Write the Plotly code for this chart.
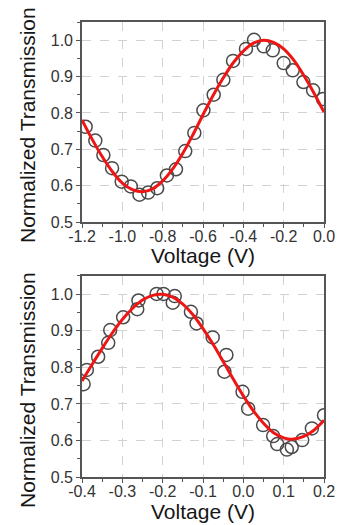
import plotly.graph_objects as go

# ---------------- data: top panel ----------------
top_v = [-1.182, -1.134, -1.094, -1.051, -1.003, -0.958, -0.915, -0.872, -0.827,
         -0.779, -0.734, -0.688, -0.643, -0.598, -0.547, -0.499, -0.451, -0.387,
         -0.347, -0.299, -0.254, -0.200, -0.155, -0.102, -0.054, -0.005]
top_t = [0.762, 0.724, 0.684, 0.648, 0.611, 0.598, 0.575, 0.581, 0.593,
         0.628, 0.645, 0.695, 0.745, 0.807, 0.850, 0.891, 0.943, 0.976,
         1.001, 0.983, 0.972, 0.937, 0.917, 0.885, 0.862, 0.838]
top_fit_v = [-1.20, -1.15, -1.10, -1.05, -1.00, -0.95, -0.90, -0.85, -0.80, -0.75,
             -0.70, -0.65, -0.60, -0.55, -0.50, -0.45, -0.40, -0.35, -0.30, -0.25,
             -0.20, -0.15, -0.10, -0.05, 0.00]
top_fit_t = [0.781, 0.728, 0.680, 0.639, 0.607, 0.589, 0.583, 0.591, 0.613, 0.646,
             0.689, 0.740, 0.795, 0.848, 0.896, 0.938, 0.970, 0.992, 1.000, 0.994,
             0.976, 0.945, 0.903, 0.855, 0.802]

# ---------------- data: bottom panel ----------------
bot_v = [-0.396, -0.388, -0.360, -0.335, -0.330, -0.298, -0.263, -0.260, -0.215,
         -0.198, -0.175, -0.170, -0.130, -0.116, -0.076, -0.042, -0.047, -0.002,
         0.012, 0.049, 0.074, 0.084, 0.108, 0.120, 0.146, 0.170, 0.200]
bot_t = [0.754, 0.793, 0.829, 0.867, 0.902, 0.937, 0.959, 0.983, 1.001,
         1.001, 0.977, 0.995, 0.952, 0.920, 0.882, 0.834, 0.788, 0.733,
         0.687, 0.642, 0.612, 0.590, 0.575, 0.582, 0.601, 0.633, 0.669]
bot_fit_v = [-0.400, -0.375, -0.350, -0.325, -0.300, -0.275, -0.250, -0.225, -0.200,
             -0.175, -0.150, -0.125, -0.100, -0.075, -0.050, -0.025, 0.000, 0.025,
             0.050, 0.075, 0.100, 0.120, 0.150, 0.175, 0.200]
bot_fit_t = [0.763, 0.808, 0.852, 0.894, 0.931, 0.961, 0.984, 0.997, 1.000,
             0.992, 0.973, 0.944, 0.906, 0.863, 0.816, 0.768, 0.722, 0.681,
             0.647, 0.621, 0.607, 0.603, 0.611, 0.628, 0.655]

# ---------------- ticks ----------------
top_xticks = [-1.2, -1.0, -0.8, -0.6, -0.4, -0.2, 0.0]
top_xlabels = ["-1.2", "-1.0", "-0.8", "-0.6", "-0.4", "-0.2", "0.0"]
bot_xticks = [-0.4, -0.3, -0.2, -0.1, 0.0, 0.1, 0.2]
bot_xlabels = ["-0.4", "-0.3", "-0.2", "-0.1", "0.0", "0.1", "0.2"]
yticks = [0.5, 0.6, 0.7, 0.8, 0.9, 1.0]
ylabels = ["0.5", "0.6", "0.7", "0.8", "0.9", "1.0"]

x_title = "Voltage (V)"
y_title = "Normalized Transmission"

FONT = "Arial, 'Liberation Sans', sans-serif"
FRAME = "#555555"
GRID = "#d2d2d2"
MARK = "#4a4a4a"
RED = "#ee1515"

fig = go.Figure()
fig.add_trace(go.Scatter(x=top_v, y=top_t, mode="markers", xaxis="x", yaxis="y",
                         marker=dict(symbol="circle-open", size=13, color=MARK,
                                     line=dict(width=1.5, color=MARK)),
                         showlegend=False))
fig.add_trace(go.Scatter(x=top_fit_v, y=top_fit_t, mode="lines", xaxis="x", yaxis="y",
                         line=dict(color=RED, width=3, shape="spline"),
                         showlegend=False))
fig.add_trace(go.Scatter(x=bot_v, y=bot_t, mode="markers", xaxis="x2", yaxis="y2",
                         marker=dict(symbol="circle-open", size=13, color=MARK,
                                     line=dict(width=1.5, color=MARK)),
                         showlegend=False))
fig.add_trace(go.Scatter(x=bot_fit_v, y=bot_fit_t, mode="lines", xaxis="x2", yaxis="y2",
                         line=dict(color=RED, width=3, shape="spline"),
                         showlegend=False))

common = dict(showline=True, linecolor=FRAME, linewidth=1.6, mirror=True,
              ticks="outside", ticklen=4, tickwidth=1.2, tickcolor=FRAME,
              showgrid=True, gridcolor=GRID, griddash="dash", gridwidth=1,
              zeroline=False, tickfont=dict(family=FONT, size=16, color="#333333"),
              tickmode="array")

fig.update_layout(
    width=347, height=525,
    margin=dict(l=82, r=15, t=22, b=48),
    paper_bgcolor="white", plot_bgcolor="white",
    xaxis=dict(domain=[0, 1], anchor="y", range=[-1.2, 0.0],
               tickvals=top_xticks, ticktext=top_xlabels, ticklabelstandoff=-5,
               minor=dict(tick0=-1.2, dtick=0.1, ticks="outside", ticklen=3,
                          tickcolor=FRAME, showgrid=False), **common),
    yaxis=dict(domain=[0.5604, 1], anchor="x", range=[0.5, 1.05],
               tickvals=yticks, ticktext=ylabels,
               minor=dict(tick0=0.5, dtick=0.05, ticks="outside", ticklen=3,
                          tickcolor=FRAME, showgrid=False), **common),
    xaxis2=dict(domain=[0, 1], anchor="y2", range=[-0.4, 0.2],
                tickvals=bot_xticks, ticktext=bot_xlabels, ticklabelstandoff=-5,
                minor=dict(tick0=-0.4, dtick=0.05, ticks="outside", ticklen=3,
                           tickcolor=FRAME, showgrid=False), **common),
    yaxis2=dict(domain=[0, 0.4418], anchor="x2", range=[0.5, 1.05],
                tickvals=yticks, ticktext=ylabels,
                minor=dict(tick0=0.5, dtick=0.05, ticks="outside", ticklen=3,
                           tickcolor=FRAME, showgrid=False), **common),
)

tfont = dict(family=FONT, size=21, color="#161616")
annots = [
    dict(text=y_title, x=0, xshift=-55, y=0.7736, textangle=-90),
    dict(text=y_title, x=0, xshift=-55, y=0.1912, textangle=-90),
    dict(text=x_title, x=0.5, y=0.486),
    dict(text=x_title, x=0.5, y=-0.0765),
]
for a in annots:
    fig.add_annotation(xref="paper", yref="paper", showarrow=False,
                       xanchor="center", yanchor="middle", font=tfont, **a)

fig.write_html("out.html", config={"displayModeBar": False},
               post_script="document.body.style.margin='0px';document.body.style.overflow='hidden';")
